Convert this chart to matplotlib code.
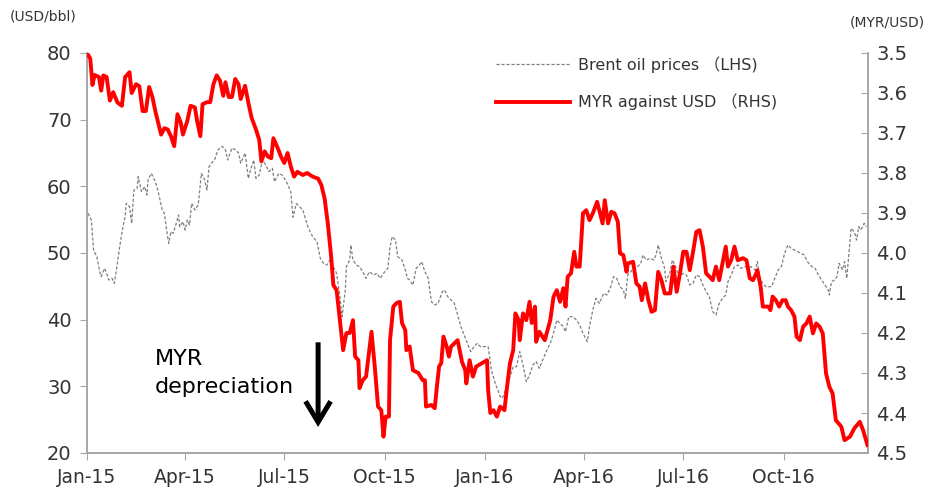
import matplotlib
matplotlib.use("Agg")
import matplotlib.pyplot as plt
import numpy as np
import pandas as pd
from matplotlib.lines import Line2D

# ---- data (days since 2015-01-01) ----
myr_days = [0, 3, 5, 7, 11, 13, 15, 18, 21, 24, 28, 32, 35, 39, 41, 45, 48, 51, 54, 57, 60, 63, 68, 71, 74, 77, 80, 83, 86, 88,
            92, 95, 99, 101, 104, 106, 110, 113, 116, 119, 122, 125, 127, 130, 133, 136, 139, 141, 145, 148, 151, 155, 158, 160,
            163, 166, 169, 171, 175, 178, 181, 184, 187, 190, 193, 198, 202, 207, 212, 215, 218, 221, 224, 226, 229, 232, 235,
            238, 241, 244, 246, 249, 250, 253, 256, 259, 261, 264, 267, 270, 272, 274, 277, 278, 281, 284, 287, 289, 292, 293,
            296, 299, 304, 308, 310, 311, 316, 319, 321, 323, 325, 327, 330, 332, 334, 337, 340, 344, 347, 348, 351, 354, 357,
            362, 367, 368, 370, 373, 376, 379, 383, 385, 388, 391, 393, 396, 397, 400, 403, 406, 408, 411, 412, 415, 420, 425,
            428, 431, 434, 437, 439, 441, 444, 447, 449, 452, 455, 458, 461, 464, 468, 470, 473, 475, 478, 481, 484, 487, 489,
            492, 495, 496, 501, 504, 507, 509, 512, 515, 518, 521, 524, 527, 530, 535, 538, 541, 544, 547, 550, 553, 556, 559,
            562, 565, 568, 571, 574, 577, 580, 583, 586, 588, 591, 594, 597, 602, 605, 608, 611, 614, 615, 618, 620, 625, 627,
            629, 632, 635, 638, 641, 643, 646, 649, 651, 654, 657, 660, 663, 666, 669, 672, 675, 678, 681, 684, 687, 692, 695,
            700, 704, 709, 712, 716]
myr_vals = [3.500, 3.514, 3.580, 3.555, 3.560, 3.594, 3.556, 3.560, 3.619, 3.598, 3.624, 3.632, 3.560, 3.548, 3.600, 3.578,
            3.583, 3.645, 3.645, 3.585, 3.610, 3.649, 3.704, 3.688, 3.691, 3.708, 3.733, 3.653, 3.674, 3.704, 3.670, 3.632,
            3.636, 3.670, 3.708, 3.628, 3.623, 3.623, 3.578, 3.556, 3.569, 3.607, 3.573, 3.610, 3.610, 3.565, 3.578, 3.615,
            3.582, 3.624, 3.662, 3.691, 3.717, 3.771, 3.746, 3.759, 3.763, 3.713, 3.738, 3.759, 3.775, 3.750, 3.784, 3.809,
            3.797, 3.805, 3.800, 3.809, 3.814, 3.830, 3.864, 3.928, 4.009, 4.080, 4.093, 4.168, 4.243, 4.200, 4.200, 4.168,
            4.259, 4.268, 4.338, 4.318, 4.309, 4.243, 4.197, 4.284, 4.384, 4.393, 4.459, 4.409, 4.409, 4.218, 4.134, 4.125,
            4.122, 4.175, 4.193, 4.243, 4.234, 4.293, 4.300, 4.318, 4.318, 4.384, 4.380, 4.388, 4.334, 4.284, 4.275, 4.209,
            4.234, 4.259, 4.234, 4.226, 4.218, 4.272, 4.293, 4.326, 4.268, 4.309, 4.284, 4.276, 4.268, 4.343, 4.400, 4.393,
            4.409, 4.384, 4.393, 4.343, 4.276, 4.243, 4.151, 4.168, 4.218, 4.151, 4.168, 4.122, 4.175, 4.134, 4.222, 4.197,
            4.218, 4.168, 4.109, 4.093, 4.122, 4.088, 4.134, 4.059, 4.051, 3.997, 4.034, 4.034, 3.901, 3.893, 3.918, 3.901,
            3.872, 3.893, 3.926, 3.868, 3.926, 3.897, 3.901, 3.922, 4.001, 4.005, 4.047, 4.026, 4.022, 4.076, 4.084, 4.118,
            4.076, 4.118, 4.147, 4.143, 4.047, 4.068, 4.101, 4.101, 4.034, 4.097, 4.051, 3.997, 3.997, 4.043, 3.997, 3.947,
            3.943, 3.984, 4.051, 4.059, 4.068, 4.034, 4.068, 4.026, 3.984, 4.034, 4.018, 3.984, 4.018, 4.013, 4.018, 4.063,
            4.068, 4.051, 4.043, 4.084, 4.134, 4.134, 4.143, 4.109, 4.118, 4.134, 4.118, 4.118, 4.134, 4.143, 4.159, 4.209,
            4.218, 4.184, 4.176, 4.159, 4.201, 4.176, 4.184, 4.201, 4.301, 4.334, 4.351, 4.418, 4.434, 4.468, 4.459, 4.438,
            4.422, 4.443, 4.480]

brent_days = [1, 4, 6, 9, 12, 13, 16, 18, 20, 23, 25, 27, 30, 33, 35, 36, 39, 41, 43, 46, 47, 50, 53, 55, 56, 59, 62, 65, 69,
              71, 73, 75, 77, 79, 81, 84, 85, 88, 90, 92, 94, 96, 99, 102, 105, 108, 110, 112, 114, 117, 120, 124, 127, 129,
              133, 136, 139, 141, 145, 148, 150, 153, 155, 158, 161, 164, 167, 170, 172, 176, 179, 183, 187, 189, 192, 195,
              198, 203, 207, 211, 214, 217, 220, 223, 226, 229, 232, 234, 237, 238, 241, 242, 244, 247, 250, 253, 256, 259,
              263, 266, 269, 272, 276, 278, 280, 283, 285, 289, 292, 294, 296, 299, 302, 305, 307, 310, 313, 316, 319, 322,
              326, 328, 331, 334, 337, 340, 343, 346, 349, 352, 355, 358, 361, 364, 368, 371, 375, 377, 379, 381, 384, 387,
              391, 394, 397, 400, 403, 406, 409, 412, 415, 418, 422, 425, 428, 431, 434, 437, 439, 442, 446, 449, 452, 455,
              459, 461, 464, 467, 470, 474, 477, 480, 483, 486, 489, 492, 494, 496, 499, 502, 505, 508, 510, 513, 517, 520,
              522, 524, 527, 530, 531, 535, 537, 540, 543, 547, 550, 553, 556, 559, 562, 565, 568, 571, 574, 577, 580, 583,
              586, 588, 591, 594, 597, 600, 603, 606, 609, 613, 615, 617, 620, 623, 628, 631, 634, 637, 640, 643, 646, 649,
              652, 655, 658, 661, 665, 668, 671, 674, 677, 680, 681, 683, 686, 688, 690, 693, 695, 697, 700, 701, 704, 706,
              708, 710, 713, 715]
brent_vals = [55.96, 54.95, 50.45, 49.45, 46.95, 46.45, 47.70, 46.95, 45.95, 46.20, 45.45, 47.45, 50.95, 53.95, 55.45, 57.45,
              56.95, 54.45, 59.45, 59.70, 61.45, 59.20, 59.95, 58.70, 60.95, 61.95, 60.95, 59.45, 56.45, 55.95, 53.45, 51.45,
              53.20, 52.95, 53.95, 55.70, 53.95, 54.70, 53.45, 54.95, 54.20, 57.45, 56.45, 57.20, 61.95, 60.95, 59.45, 62.95,
              63.45, 63.95, 65.45, 66.00, 65.50, 63.95, 65.75, 65.50, 65.00, 63.47, 65.00, 61.19, 62.45, 63.95, 61.19, 61.70,
              63.95, 63.20, 62.21, 62.72, 60.70, 61.95, 61.70, 60.70, 59.17, 55.37, 57.40, 56.95, 56.45, 53.75, 52.45, 51.70,
              49.20, 48.45, 48.20, 48.95, 47.95, 46.95, 43.45, 40.45, 44.45, 47.95, 48.95, 51.20, 48.95, 48.20, 47.95, 47.20,
              46.20, 47.20, 46.70, 46.95, 46.20, 46.95, 47.70, 50.95, 52.45, 51.95, 49.45, 48.95, 47.45, 46.20, 45.95, 45.20,
              47.70, 48.20, 48.70, 47.20, 46.20, 42.70, 42.20, 42.45, 44.20, 44.45, 43.45, 42.95, 42.45, 40.70, 38.95, 37.70,
              36.45, 35.20, 35.95, 36.45, 35.95, 35.95, 35.95, 32.45, 30.20, 29.45, 28.45, 28.20, 29.45, 30.95, 32.95, 32.95,
              35.20, 33.20, 30.70, 31.70, 33.20, 33.70, 32.70, 33.95, 35.45, 36.45, 37.95, 39.95, 39.45, 38.95, 38.20, 40.45,
              40.45, 39.95, 39.20, 37.95, 36.70, 38.95, 41.45, 43.20, 42.45, 43.95, 43.70, 44.70, 46.45, 46.20, 44.95, 44.45,
              43.20, 46.70, 47.20, 47.95, 47.95, 48.45, 49.70, 48.95, 49.20, 48.95, 49.70, 51.20, 49.20, 47.70, 45.70, 47.20,
              48.95, 47.95, 46.45, 46.95, 46.70, 45.20, 45.45, 46.70, 46.45, 45.20, 44.20, 43.45, 41.20, 40.70, 42.45, 43.20,
              43.70, 45.70, 46.70, 47.95, 48.20, 47.70, 47.95, 47.95, 47.95, 47.45, 48.70, 46.55, 45.35, 44.95, 44.95, 46.20,
              47.45, 47.95, 49.95, 51.20, 50.70, 50.45, 50.20, 49.95, 49.70, 48.70, 47.95, 47.70, 46.70, 45.95, 45.20, 44.45,
              43.70, 45.70, 45.95, 46.45, 48.45, 47.45, 48.70, 46.20, 51.95, 53.70, 53.20, 51.95, 53.95, 53.45, 54.45, 53.95]

tick_dates = ["2015-01-01", "2015-04-01", "2015-07-01", "2015-10-01",
              "2016-01-01", "2016-04-01", "2016-07-01", "2016-10-01"]
tick_labels = ["Jan-15", "Apr-15", "Jul-15", "Oct-15", "Jan-16", "Apr-16", "Jul-16", "Oct-16"]
left_ticks = [20, 30, 40, 50, 60, 70, 80]
right_ticks = [3.5, 3.6, 3.7, 3.8, 3.9, 4.0, 4.1, 4.2, 4.3, 4.4, 4.5]

start = pd.Timestamp("2015-01-01")
myr_dates = start + pd.to_timedelta(myr_days, unit="D")
brent_dates = start + pd.to_timedelta(brent_days, unit="D")

plt.rcParams['font.family'] = ['DejaVu Sans', 'Noto Sans CJK JP']
tick_col = "#333333"
spine_col = "#A6A6A6"

fig = plt.figure(figsize=(9.34, 4.95), dpi=100)
ax = fig.add_axes([87/934, 1-453/495, (868-87)/934, 400/495])
ax2 = ax.twinx()

ax.plot(brent_dates, brent_vals, color="#7F7F7F", lw=0.9, ls=(0, (2.5, 1.5)), zorder=2)
ax2.plot(myr_dates, myr_vals, color="#FF0000", lw=2.8, zorder=3, solid_joinstyle='round')

ax.set_ylim(20, 80)
ax2.set_ylim(4.5, 3.5)
ax.set_xlim(start, start + pd.Timedelta(days=716.5))

ax.set_yticks(left_ticks)
ax.set_yticklabels([str(v) for v in left_ticks])
ax2.set_yticks(right_ticks)
ax2.set_yticklabels([f"{v:.1f}" for v in right_ticks])
ax.set_xticks(pd.to_datetime(tick_dates))
ax.set_xticklabels(tick_labels)

for a in (ax, ax2):
    a.spines['top'].set_visible(False)
    for s in ('left', 'right', 'bottom'):
        a.spines[s].set_color(spine_col)
        a.spines[s].set_linewidth(1.2)
ax.tick_params(axis='y', direction='out', length=5, color=spine_col, labelsize=14, labelcolor=tick_col, pad=6)
ax.tick_params(axis='x', direction='out', length=5, color=spine_col, labelsize=13.5, labelcolor=tick_col, pad=6)
ax2.tick_params(axis='y', direction='in', length=5, color=spine_col, labelsize=14, labelcolor=tick_col, pad=6)

fig.text(10/934, 1-17/495, "(USD/bbl)", fontsize=10, color=tick_col, va='center', ha='left')
fig.text(925/934, 1-22/495, "(MYR/USD)", fontsize=10, color=tick_col, va='center', ha='right')

handles = [Line2D([], [], color="#7F7F7F", lw=0.9, ls=(0, (2.5, 1.5))),
           Line2D([], [], color="#FF0000", lw=2.8)]
labels = ["Brent oil prices （LHS)", "MYR against USD （RHS)"]
leg = fig.legend(handles, labels, loc='upper left', bbox_to_anchor=(490/934, 1-50/495),
                 frameon=False, fontsize=11.5, handlelength=4.6, handletextpad=0.5,
                 labelspacing=1.3, borderaxespad=0)
for t in leg.get_texts():
    t.set_color(tick_col)

ax.text(start + pd.Timedelta(days=62), 32.0, "MYR\ndepreciation", fontsize=16, color="#000000",
        ha='left', va='center', linespacing=1.55)
ax.annotate("", xy=(start + pd.Timedelta(days=212), 23.9), xytext=(start + pd.Timedelta(days=212), 36.6),
            arrowprops=dict(arrowstyle="->,head_length=0.75,head_width=0.45", color="black", lw=3.6,
                            mutation_scale=20, shrinkA=0, shrinkB=0, joinstyle='miter', capstyle='butt'))

fig.savefig("out.png", dpi=100)
